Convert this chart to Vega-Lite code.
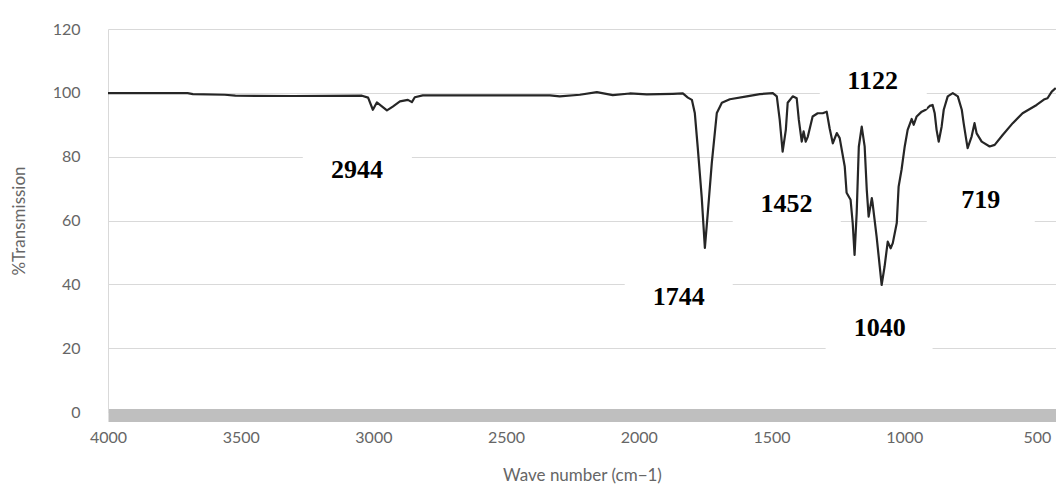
{
  "$schema": "https://vega.github.io/schema/vega-lite/v6.json",
  "width": 948,
  "height": 383,
  "autosize": {"type": "none"},
  "padding": {"left": 108, "top": 29, "right": 0, "bottom": 72},
  "background": "white",
  "config": {"view": {"stroke": null}, "font": "Lato"},
  "datasets": {
    "spectrum": [
      {"wn": 4000, "t": 99.9}, {"wn": 3700, "t": 99.9}, {"wn": 3680, "t": 99.6}, {"wn": 3560, "t": 99.4},
      {"wn": 3520, "t": 99.1}, {"wn": 3300, "t": 99.0}, {"wn": 3043, "t": 99.1}, {"wn": 3020, "t": 98.5},
      {"wn": 3002, "t": 94.7}, {"wn": 2987, "t": 97.0}, {"wn": 2949, "t": 94.5}, {"wn": 2927, "t": 95.7},
      {"wn": 2900, "t": 97.3}, {"wn": 2870, "t": 97.8}, {"wn": 2855, "t": 97.1}, {"wn": 2844, "t": 98.6},
      {"wn": 2814, "t": 99.2}, {"wn": 2573, "t": 99.2}, {"wn": 2335, "t": 99.2}, {"wn": 2298, "t": 98.9},
      {"wn": 2222, "t": 99.4}, {"wn": 2158, "t": 100.2}, {"wn": 2098, "t": 99.3}, {"wn": 2034, "t": 99.8},
      {"wn": 1970, "t": 99.5}, {"wn": 1872, "t": 99.7}, {"wn": 1834, "t": 99.8}, {"wn": 1815, "t": 98.5},
      {"wn": 1800, "t": 97.8}, {"wn": 1789, "t": 93.7}, {"wn": 1778, "t": 83.0}, {"wn": 1763, "t": 67.4},
      {"wn": 1751, "t": 51.4}, {"wn": 1740, "t": 62.4}, {"wn": 1725, "t": 78.0}, {"wn": 1706, "t": 93.7},
      {"wn": 1687, "t": 96.9}, {"wn": 1657, "t": 98.0}, {"wn": 1593, "t": 98.9}, {"wn": 1544, "t": 99.6},
      {"wn": 1495, "t": 99.9}, {"wn": 1480, "t": 98.9}, {"wn": 1469, "t": 91.5}, {"wn": 1458, "t": 81.6},
      {"wn": 1446, "t": 88.4}, {"wn": 1439, "t": 96.9}, {"wn": 1420, "t": 98.9}, {"wn": 1405, "t": 98.3},
      {"wn": 1397, "t": 91.5}, {"wn": 1386, "t": 84.7}, {"wn": 1379, "t": 87.9}, {"wn": 1371, "t": 84.7},
      {"wn": 1363, "t": 86.3}, {"wn": 1345, "t": 92.6}, {"wn": 1326, "t": 93.6}, {"wn": 1307, "t": 93.6},
      {"wn": 1292, "t": 94.1}, {"wn": 1281, "t": 88.9}, {"wn": 1269, "t": 84.2}, {"wn": 1254, "t": 87.4},
      {"wn": 1243, "t": 85.8}, {"wn": 1224, "t": 76.9}, {"wn": 1217, "t": 68.7}, {"wn": 1202, "t": 66.5},
      {"wn": 1194, "t": 59.2}, {"wn": 1187, "t": 49.2}, {"wn": 1179, "t": 62.4}, {"wn": 1171, "t": 83.1},
      {"wn": 1160, "t": 89.4}, {"wn": 1149, "t": 83.2}, {"wn": 1141, "t": 69.6}, {"wn": 1134, "t": 61.2},
      {"wn": 1122, "t": 67.0}, {"wn": 1119, "t": 65.4}, {"wn": 1104, "t": 55.0}, {"wn": 1092, "t": 45.5},
      {"wn": 1085, "t": 39.8}, {"wn": 1074, "t": 45.5}, {"wn": 1062, "t": 53.4}, {"wn": 1051, "t": 51.3},
      {"wn": 1043, "t": 52.9}, {"wn": 1028, "t": 59.2}, {"wn": 1021, "t": 70.6}, {"wn": 1010, "t": 75.9},
      {"wn": 998, "t": 83.2}, {"wn": 987, "t": 88.4}, {"wn": 972, "t": 91.8}, {"wn": 964, "t": 90.0},
      {"wn": 953, "t": 92.6}, {"wn": 934, "t": 94.1}, {"wn": 919, "t": 94.7}, {"wn": 904, "t": 95.9},
      {"wn": 893, "t": 96.2}, {"wn": 885, "t": 93.6}, {"wn": 878, "t": 88.4}, {"wn": 870, "t": 84.7},
      {"wn": 859, "t": 89.4}, {"wn": 851, "t": 94.7}, {"wn": 836, "t": 98.9}, {"wn": 817, "t": 99.9},
      {"wn": 798, "t": 98.9}, {"wn": 783, "t": 94.7}, {"wn": 776, "t": 90.5}, {"wn": 765, "t": 84.7},
      {"wn": 761, "t": 82.7}, {"wn": 746, "t": 86.3}, {"wn": 735, "t": 90.5}, {"wn": 727, "t": 87.3},
      {"wn": 708, "t": 84.7}, {"wn": 678, "t": 83.2}, {"wn": 659, "t": 83.7}, {"wn": 629, "t": 86.8},
      {"wn": 591, "t": 90.5}, {"wn": 554, "t": 93.6}, {"wn": 501, "t": 96.2}, {"wn": 471, "t": 98.0},
      {"wn": 460, "t": 98.3}, {"wn": 444, "t": 100.4}, {"wn": 429, "t": 101.5}
    ],
    "labels": [
      {"label": "2944", "wx": 3062, "ty": 75.9, "x1": 3266, "x2": 2855, "y1": 82.8, "y2": 67.1},
      {"label": "1122", "wx": 1119, "ty": 103.8, "x1": 1318, "x2": 915, "y1": 110.7, "y2": 95.0},
      {"label": "1452", "wx": 1443, "ty": 65.2, "x1": 1646, "x2": 1239, "y1": 72.1, "y2": 56.4},
      {"label": "719", "wx": 712, "ty": 66.5, "x1": 915, "x2": 508, "y1": 73.4, "y2": 57.7},
      {"label": "1744", "wx": 1849, "ty": 36.1, "x1": 2053, "x2": 1646, "y1": 42.9, "y2": 27.3},
      {"label": "1040", "wx": 1092, "ty": 26.3, "x1": 1296, "x2": 893, "y1": 33.2, "y2": 17.6}
    ]
  },
  "layer": [
    {
      "data": {"name": "spectrum"},
      "mark": {"type": "line", "color": "#262626", "strokeWidth": 2.2, "strokeJoin": "round"},
      "encoding": {
        "x": {
          "field": "wn", "type": "quantitative",
          "scale": {"domain": [428, 4000], "reverse": true, "nice": false, "zero": false},
          "axis": {
            "values": [500, 1000, 1500, 2000, 2500, 3000, 3500, 4000],
            "format": "d",
            "title": "Wave number (cm\u22121)",
            "grid": false, "ticks": false,
            "domainColor": "#bfbfbf", "domainWidth": 13, "offset": 3,
            "labelPadding": 14, "labelFontSize": 16, "labelColor": "#666666",
            "labelFlush": false, "labelFont": "Lato",
            "titleFont": "Lato", "titleFontSize": 17, "titleFontWeight": "normal",
            "titleColor": "#666666", "titlePadding": 22
          }
        },
        "y": {
          "field": "t", "type": "quantitative",
          "scale": {"domain": [0, 120], "nice": false, "zero": false},
          "axis": {
            "values": [0, 20, 40, 60, 80, 100, 120],
            "title": "%Transmission",
            "grid": true, "gridColor": "#d9d9d9", "gridWidth": 1,
            "ticks": false, "domainColor": "#d9d9d9", "domainWidth": 1,
            "labelPadding": 28, "labelFontSize": 16, "labelColor": "#666666", "labelFont": "Lato",
            "titleFont": "Lato", "titleFontSize": 17, "titleFontWeight": "normal",
            "titleColor": "#666666", "titlePadding": 24
          }
        }
      }
    },
    {
      "data": {"name": "labels"},
      "mark": {"type": "rect", "color": "white"},
      "encoding": {
        "x": {"field": "x1", "type": "quantitative"},
        "x2": {"field": "x2"},
        "y": {"field": "y1", "type": "quantitative"},
        "y2": {"field": "y2"}
      }
    },
    {
      "data": {"name": "labels"},
      "mark": {"type": "text", "font": "Liberation Serif", "fontWeight": "bold", "fontSize": 26, "baseline": "middle", "align": "center", "color": "black"},
      "encoding": {
        "x": {"field": "wx", "type": "quantitative"},
        "y": {"field": "ty", "type": "quantitative"},
        "text": {"field": "label"}
      }
    }
  ]
}
